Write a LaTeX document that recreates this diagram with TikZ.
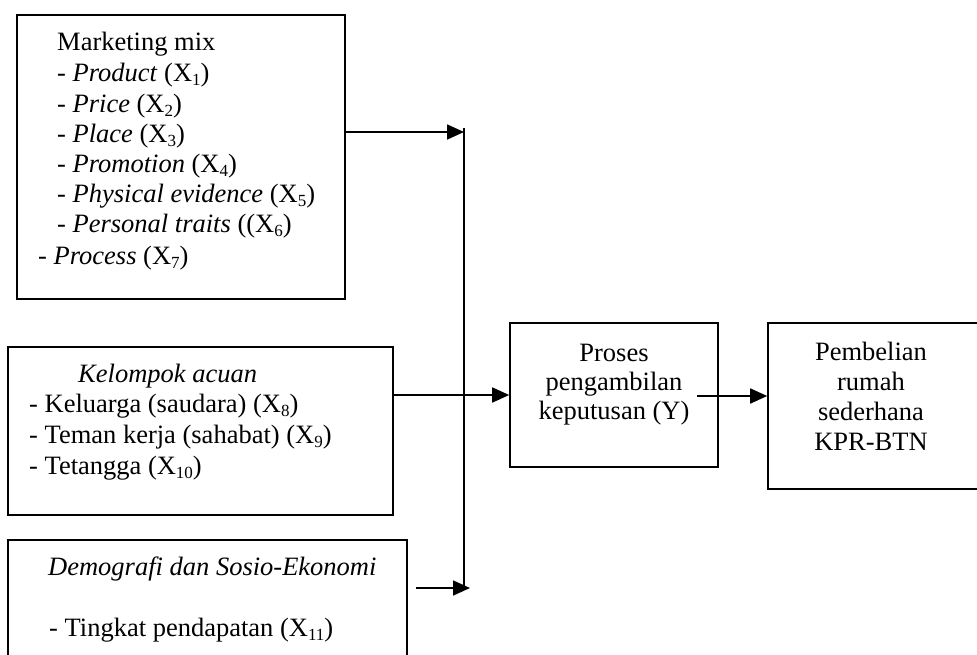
\documentclass[tikz,border=0pt]{standalone}
\usepackage{fontspec}
\setmainfont{Liberation Serif}
\usetikzlibrary{arrows.meta}
\newcommand\sbx[1]{\raisebox{-4pt}{\fontsize{17}{17}\selectfont #1}}
\begin{document}
\begin{tikzpicture}[x=1pt,y=-1pt,
  box/.style={draw, line width=1.6pt, rectangle, inner sep=0pt},
  txt/.style={inner sep=0pt, anchor=base west, font=\fontsize{26.5}{30}\selectfont},
  ctxt/.style={inner sep=0pt, anchor=base, font=\fontsize{26.5}{30}\selectfont},
  arr/.style={line width=1.7pt, -{Triangle[length=17pt,width=15pt]}},
  vline/.style={line width=1.4pt}]
\useasboundingbox (0,0) rectangle (977,654);
\clip (0,0) rectangle (977,654);
% boxes
\node[box, minimum width=328, minimum height=284] (mm) at (181,157) {};
\node[box, minimum width=385, minimum height=168] (ka) at (200.5,431) {};
\node[box, minimum width=399, minimum height=160] (ds) at (207.5,620) {};
\node[box, minimum width=208, minimum height=144] (pk) at (614,395) {};
\node[box, minimum width=222, minimum height=166] (pb) at (879,406) {};
% marketing mix text
\node[txt] (m0) at (57,50) {Marketing mix};
\node[txt] (m1) at (57,81) {- \textit{Product} (X\sbx{1})};
\node[txt] (m2) at (57,112) {- \textit{Price} (X\sbx{2})};
\node[txt] (m3) at (57,142) {- \textit{Place} (X\sbx{3})};
\node[txt] (m4) at (57,172) {- \textit{Promotion} (X\sbx{4})};
\node[txt] (m5) at (57,202) {- \textit{Physical evidence} (X\sbx{5})};
\node[txt] (m6) at (57,232) {- \textit{Personal traits} ((X\sbx{6})};
\node[txt] (m7) at (38,264) {- \textit{Process} (X\sbx{7})};
% kelompok acuan
\node[txt] (k0) at (78,382) {\textit{Kelompok acuan}};
\node[txt] (k1) at (29,412) {- Keluarga (saudara) (X\sbx{8})};
\node[txt] (k2) at (29,443) {- Teman kerja (sahabat) (X\sbx{9})};
\node[txt] (k3) at (29,474) {- Tetangga (X\sbx{10})};
% demografi
\node[txt] (d0) at (48,575) {\textit{Demografi dan Sosio-Ekonomi}};
\node[txt] (d1) at (49,636) {- Tingkat pendapatan (X\sbx{11})};
% proses
\node[ctxt] (p0) at (614,361) {Proses};
\node[ctxt] (p1) at (614,390) {pengambilan};
\node[ctxt] (p2) at (614,419) {keputusan (Y)};
% pembelian
\node[ctxt] (b0) at (871,360) {Pembelian};
\node[ctxt] (b1) at (871,390) {rumah};
\node[ctxt] (b2) at (871,420) {sederhana};
\node[ctxt] (b3) at (871,450) {KPR-BTN};
% connectors
\coordinate (jtop) at (464,128);
\coordinate (j1) at (464,132);
\coordinate (jbot) at (464,588);
\coordinate (ds0) at (416,588);
\coordinate (ds1) at (470,588);
\coordinate (pko) at (697,396);
\draw[vline] (jtop) -- (jbot);
\draw[arr] (mm.east |- j1) -- (j1);
\draw[arr] (ka.east |- pk.west) -- (pk.west);
\draw[arr] (ds0) -- (ds1);
\draw[arr] (pko) -- (pb.west |- pko);
\end{tikzpicture}
\end{document}
